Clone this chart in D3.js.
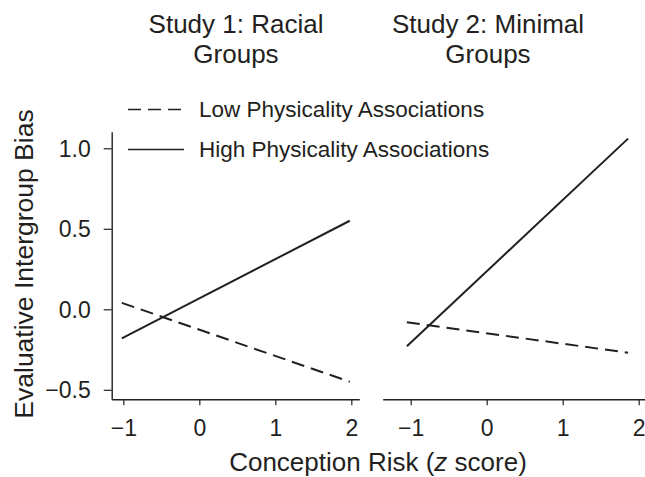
<!DOCTYPE html>
<html>
<head>
<meta charset="utf-8">
<script src="https://cdn.jsdelivr.net/npm/d3@7"></script>
<style>
  body { margin: 0; background: #fff; }
  text { font-family: "Liberation Sans", Arial, Helvetica, sans-serif; fill: #231f20; }
</style>
</head>
<body>
<svg id="chart"></svg>
<script>
// data
const seriesNames = ["Low Physicality Associations", "High Physicality Associations"];
const study1Title = ["Study 1: Racial", "Groups"];
const study2Title = ["Study 2: Minimal", "Groups"];
const study1X = [-1.02, 1.98];
const study1Low = [0.04, -0.45];
const study1High = [-0.18, 0.55];
const study2X = [-1.05, 1.86];
const study2Low = [-0.08, -0.27];
const study2High = [-0.23, 1.06];
const xTicks = [-1, 0, 1, 2];
const yTicks = [-0.5, 0.0, 0.5, 1.0];

const width = 645;
const height = 477;
const ink = "#231f20";

const svg = d3.select("#chart")
  .attr("width", width)
  .attr("height", height);

// scales
const y = d3.scaleLinear().domain([-0.559, 1.103]).range([399.3, 131.7]);
const x1 = d3.scaleLinear().domain([-1.153, 2.105]).range([111.7, 359.3]);
const x2 = d3.scaleLinear().domain([-1.368, 2.083]).range([382.7, 645]);

function styleAxis(g) {
  g.select(".domain").attr("stroke", ink).attr("stroke-width", 1.4);
  g.selectAll(".tick line").attr("stroke", ink).attr("stroke-width", 1.2);
  g.selectAll(".tick text").style("font-size", "23px").attr("fill", ink);
}

// y axis (shared, left only)
svg.append("g")
  .attr("transform", "translate(" + x1.range()[0] + ",0)")
  .call(d3.axisLeft(y).tickValues(yTicks).tickFormat(d3.format(".1f")).tickSize(8).tickSizeOuter(0).tickPadding(13))
  .call(styleAxis)
  .call(g => g.selectAll(".tick text").attr("dy", "0.34em"));

// x axes
[x1, x2].forEach(x => {
  svg.append("g")
    .attr("transform", "translate(0," + y.range()[0] + ")")
    .call(d3.axisBottom(x).tickValues(xTicks).tickFormat(d3.format("d")).tickSize(6).tickSizeOuter(0).tickPadding(14))
    .call(styleAxis);
});

// lines
const panels = [
  { x: x1, xs: study1X, low: study1Low, high: study1High },
  { x: x2, xs: study2X, low: study2Low, high: study2High }
];

panels.forEach(p => {
  const line = d3.line()
    .x(d => p.x(d[0]))
    .y(d => y(d[1]));
  svg.append("path")
    .datum(d3.zip(p.xs, p.low))
    .attr("fill", "none")
    .attr("stroke", ink)
    .attr("stroke-width", 2)
    .attr("stroke-dasharray", "13,7")
    .attr("d", line);
  svg.append("path")
    .datum(d3.zip(p.xs, p.high))
    .attr("fill", "none")
    .attr("stroke", ink)
    .attr("stroke-width", 2)
    .attr("d", line);
});

// panel titles
[[study1Title, 236], [study2Title, 488]].forEach(([lines, cx]) => {
  lines.forEach((t, i) => {
    svg.append("text")
      .attr("x", cx)
      .attr("y", 33 + i * 30)
      .attr("text-anchor", "middle")
      .style("font-size", "26px")
      .text(t);
  });
});

// legend
const legend = svg.append("g");
seriesNames.forEach((name, i) => {
  const ly = 109.5 + i * 40;
  legend.append("line")
    .attr("x1", 128).attr("x2", 184)
    .attr("y1", ly).attr("y2", ly)
    .attr("stroke", ink)
    .attr("stroke-width", 1.6)
    .attr("stroke-dasharray", i === 0 ? "13,7" : null);
  legend.append("text")
    .attr("x", 199)
    .attr("y", ly)
    .attr("dy", "0.35em")
    .style("font-size", "22.5px")
    .text(name);
});

// axis titles
svg.append("text")
  .attr("transform", "translate(33,264) rotate(-90)")
  .attr("text-anchor", "middle")
  .style("font-size", "26.5px")
  .text("Evaluative Intergroup Bias");

const xl = svg.append("text")
  .attr("x", 378)
  .attr("y", 471)
  .attr("text-anchor", "middle")
  .style("font-size", "26px");
xl.append("tspan").text("Conception Risk (");
xl.append("tspan").style("font-style", "italic").text("z");
xl.append("tspan").text(" score)");
</script>
</body>
</html>
